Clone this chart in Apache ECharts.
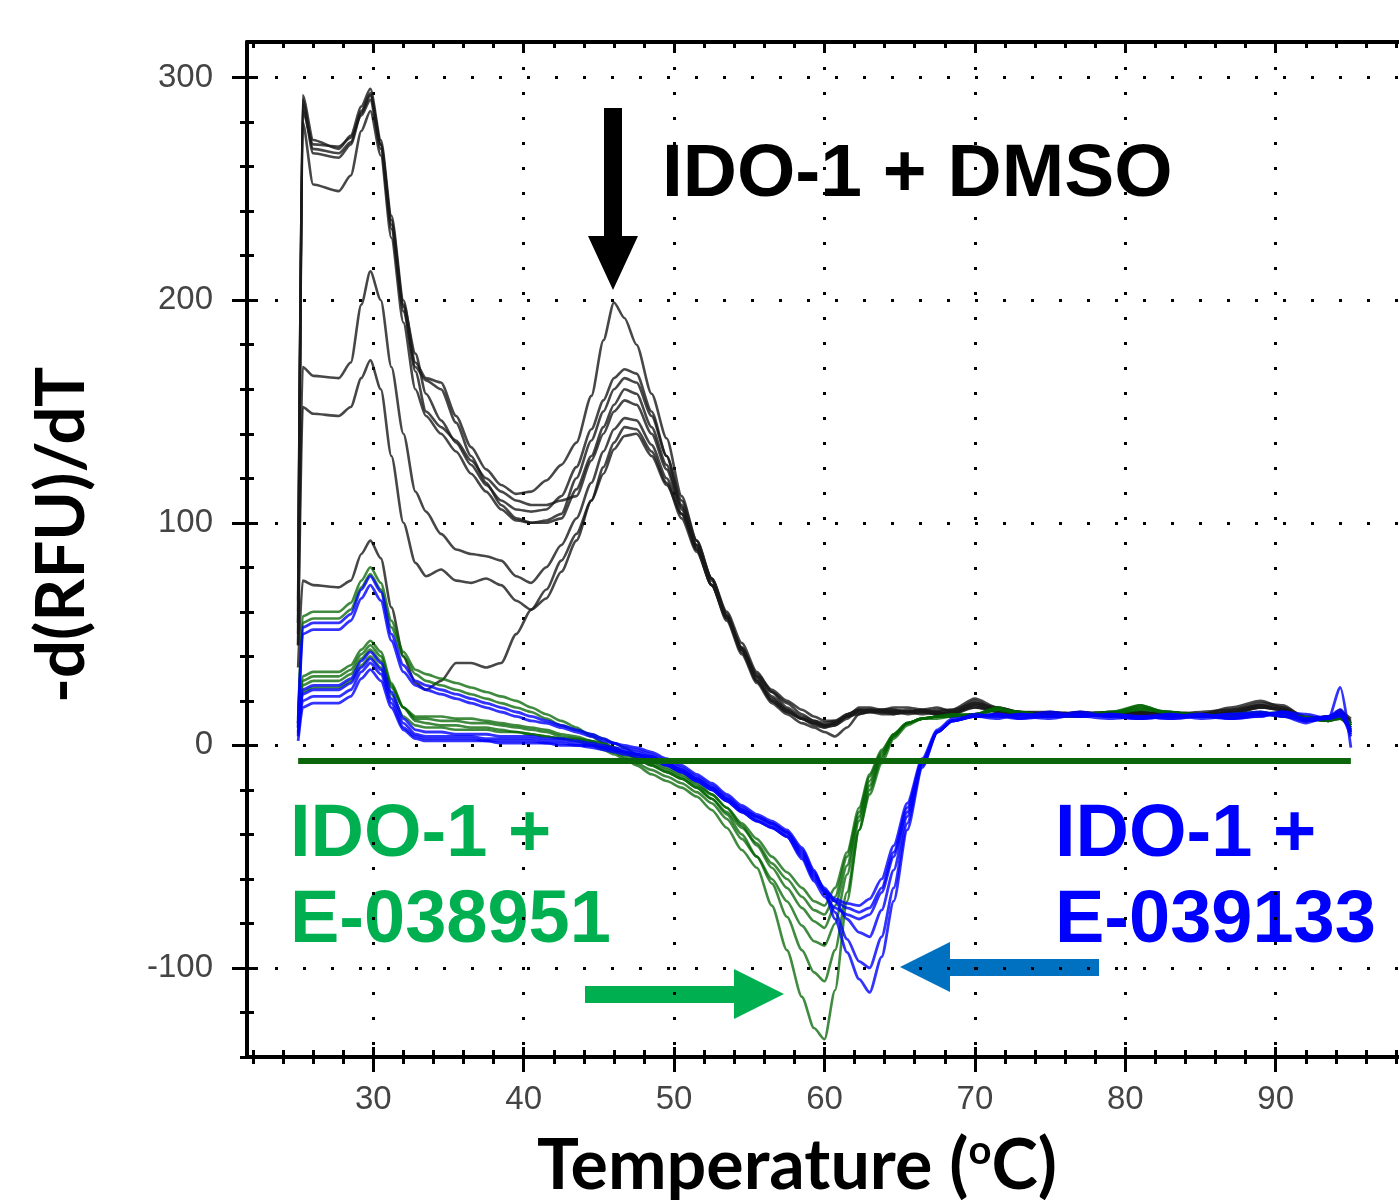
<!DOCTYPE html>
<html><head><meta charset="utf-8">
<script src="https://cdn.jsdelivr.net/npm/echarts@6/dist/echarts.min.js"></script>
<style>html,body{margin:0;padding:0;background:#fff}#c{width:1399px;height:1200px}</style>
</head><body><div id="c"></div>
<script>
// Temperature samples (°C)
const temps = [25,25.3,26,27.7,28.5,29.2,29.8,30.5,31.2,32,32.8,33.5,34.5,35.5,36.5,37.5,38.5,39.5,40.5,41.5,42.5,43.5,44.5,45.3,46,46.7,47.5,48.5,49.5,50.5,51.5,52.5,53.5,54.5,55.5,56.5,57.5,58.5,59.3,60,60.7,61.5,62.3,63,63.8,64.6,65.5,66.5,67.5,68.5,70,71.5,73,75,77,79,81,83,85,87,89,90.5,92,93.5,94.3,95];
const xMajor = [30,40,50,60,70,80,90];
const xMinor = [22,24,26,28,30,32,34,36,38,40,42,44,46,48,50,52,54,56,58,60,62,64,66,68,70,72,74,76,78,80,82,84,86,88,90,92,94,96,98];
const yMajor = [-100,0,100,200,300];
const yMinor = [-140,-120,-100,-80,-60,-40,-20,0,20,40,60,80,100,120,140,160,180,200,220,240,260,280,300];

// IDO-1 + DMSO (black)
const dmso1 = [60,292,272,268,274,287,295,272,238,200,172,165, 163,148,134,124,117,113,114,119,126,136, 157,182,199,192,180,158,138,112,92,75,59,43, 29,20,15,12,10,9,10,13,15,16,16, 17,17,16,15,16,19,17,15,14,15, 14,15,14,15,16,19,18,12,13,15,12];
const dmso2 = [55,288,266,264,270,284,292,270,236,198,176,158, 146,136,126,117,110,106,105,106,112,125, 142,155,165,169,167,150,130,108,89,72,56,41, 28,19,14,10,8,6,4,8,14,15,16, 16,15,16,17,15,20,16,14,15,14, 15,14,15,14,17,20,17,11,12,16,10];
const dmso3 = [50,285,270,269,273,283,290,268,232,195,170,164, 160,145,130,118,108,102,100,101,104,120, 137,150,160,165,163,148,130,110,92,75,58,44, 31,24,19,14,11,9,9,12,16,16,15, 15,16,15,14,15,18,16,15,14,14, 15,15,13,14,15,18,17,13,12,14,11];
const dmso4 = [45,280,252,249,256,276,285,265,228,190,160,148, 140,132,122,114,106,101,100,100,102,115, 130,143,153,160,158,143,126,107,90,74,58,43, 30,21,16,12,10,8,9,13,17,17,16, 16,15,15,16,16,21,17,15,15,14, 14,15,14,14,16,18,16,12,13,14,9];
const dmso5 = [65,290,268,266,271,285,293,270,234,197,168,150, 143,137,128,120,114,110,108,108,110,112, 128,140,150,155,153,140,124,106,88,72,57,42, 29,20,15,12,9,8,10,14,16,15,15, 15,15,14,15,14,19,16,14,13,15, 14,14,15,13,15,18,16,12,11,13,8];
const dmso6 = [55,170,166,165,172,198,213,200,170,140,114,105, 95,88,86,85,83,76,73,80,90,102, 118,132,142,147,146,135,120,104,88,72,57,43, 31,22,16,12,10,9,10,13,15,15,14, 14,15,16,14,15,17,15,14,14,13, 14,14,13,14,14,17,16,11,12,13,9];
const dmso7 = [45,152,149,148,152,165,173,160,130,100,82,76, 79,74,73,75,72,65,61,66,78,92, 110,125,136,143,142,132,118,102,87,72,58,44, 32,25,20,16,13,11,11,13,14,15,15, 15,14,15,14,14,17,16,14,13,14, 15,14,14,13,15,17,16,11,12,13,10];
const dmso8 = [35,74,72,71,74,86,92,84,62,40,28,25, 29,37,37,35,37,50,61,70,83,95, 110,122,133,139,140,130,117,104,90,75,60,46, 33,24,17,13,11,10,11,14,16,16,15, 14,15,15,15,14,18,15,14,14,14, 13,15,14,13,14,17,16,12,11,12,7];

// IDO-1 + E-038951 (green)
const e951a = [12,58,60,60,64,74,80,73,56,42,34,32, 30,28,26,24,22,20,17,14,11,8, 4,1,-1,-3,-6,-9,-12,-15,-19,-24,-31,-40, -50,-62,-77,-92,-102,-106,-92,-66,-38,-20,-6, 4,10,12,13,13,14,17,14,13,14, 15,18,14,13,14,15,14,12,11,14,9];
const e951b = [10,55,57,57,61,71,77,70,53,40,32,29, 27,25,23,21,19,17,15,12,9,7, 5,3,1,-1,-4,-7,-10,-13,-17,-22,-28,-36, -45,-55,-64,-73,-79,-82,-72,-54,-32,-16,-4, 5,10,12,13,14,13,16,15,13,13, 14,17,15,14,13,14,15,13,12,13,10];
const e951c = [9,31,33,33,36,43,47,42,28,17,11,10, 9,9,8,8,7,6,5,4,3,2, 0,-2,-4,-6,-9,-13,-16,-19,-23,-29,-37,-47, -55,-72,-92,-113,-127,-132,-110,-70,-38,-22,-8, 3,9,12,13,14,14,16,14,13,14, 15,17,14,14,13,14,14,12,12,13,8];
const e951d = [8,29,31,31,34,41,45,40,27,17,12,12, 11,11,10,10,9,8,7,6,4,3, 1,-1,-3,-5,-8,-11,-14,-17,-21,-26,-33,-42, -50,-60,-70,-81,-88,-90,-80,-58,-34,-18,-5, 4,10,12,13,13,14,16,15,13,13, 14,16,15,13,14,15,13,12,11,13,9];
const e951e = [10,27,29,29,32,39,43,38,26,17,13,13, 13,12,12,11,10,9,8,7,5,4, 2,0,-2,-4,-6,-9,-12,-15,-19,-24,-30,-37, -44,-53,-60,-68,-74,-76,-68,-50,-30,-14,-3, 5,10,12,12,13,14,17,14,13,14, 14,18,14,13,13,14,14,12,11,12,8];
const e951f = [8,24,26,26,29,36,40,35,23,13,9,8, 8,7,7,7,6,6,5,4,3,3, 2,1,-1,-3,-5,-8,-11,-14,-18,-22,-28,-35, -42,-50,-57,-64,-70,-72,-64,-48,-28,-13,-2, 5,10,12,13,13,14,16,15,13,13, 14,16,15,13,14,14,13,12,12,12,9];

// IDO-1 + E-039133 (blue)
const e133a = [10,53,55,55,59,70,76,69,50,36,29,27, 25,23,21,19,17,15,13,11,9,7, 5,3,1,0,-1,-3,-6,-9,-13,-17,-22,-27, -31,-34,-38,-46,-56,-66,-78,-93,-105,-111,-95, -70,-38,-10,6,11,14,13,14,13,15, 13,12,13,14,12,13,15,14,12,26,-1];
const e133b = [8,50,52,52,56,66,72,65,47,33,27,25, 23,21,19,17,15,13,11,10,8,6, 4,2,1,-1,-2,-4,-7,-10,-14,-18,-23,-28, -32,-35,-39,-47,-57,-65,-75,-87,-97,-100,-86, -64,-35,-9,6,11,13,14,13,15,13, 14,13,12,13,14,15,13,10,13,16,6];
const e133c = [6,25,27,27,30,38,42,37,24,12,7,6, 6,5,5,5,4,4,4,3,3,2, 1,0,-1,-2,-3,-5,-8,-11,-15,-19,-24,-29, -33,-36,-40,-48,-58,-64,-70,-78,-84,-86,-74, -56,-32,-8,6,11,13,14,12,13,14, 13,12,14,13,12,14,15,11,12,15,5];
const e133d = [5,23,25,25,28,35,39,34,21,10,5,4, 4,4,4,3,3,3,3,2,2,1, 0,-1,-2,-3,-4,-6,-9,-12,-16,-20,-25,-30, -34,-37,-41,-50,-60,-66,-70,-73,-75,-73,-64, -48,-28,-7,6,11,13,12,14,13,13, 14,13,12,13,14,14,14,12,13,14,4];
const e133e = [4,20,22,22,25,33,37,32,19,8,4,3, 3,3,3,2,2,2,2,1,1,0, 0,-1,-2,-3,-4,-5,-8,-11,-15,-19,-24,-29, -32,-35,-39,-49,-59,-65,-69,-71,-72,-69,-60, -45,-26,-6,7,12,13,13,12,14,13, 12,13,14,12,13,14,13,11,12,13,6];
const e133f = [2,17,19,19,22,30,34,29,17,7,3,2, 2,2,2,2,1,1,1,1,0,0, -1,-2,-3,-4,-5,-6,-9,-12,-16,-20,-25,-30, -34,-37,-41,-51,-61,-68,-73,-76,-78,-76,-66, -50,-30,-8,6,11,13,14,13,12,14, 13,12,13,14,12,13,15,12,12,14,7];

// Threshold baseline
const baseX = [25,95];
const baseY = [-7,-7];

const blackSets = [dmso1,dmso2,dmso3,dmso4,dmso5,dmso6,dmso7,dmso8];
const greenSets = [e951a,e951b,e951c,e951d,e951e,e951f];
const blueSets  = [e133a,e133b,e133c,e133d,e133e,e133f];

function mk(vals, color, width, name){
  return {type:'line', name:name, data: temps.map((t,i)=>[t, vals[i]]), showSymbol:false, symbol:'none',
    smooth:0.25, smoothMonotone:'x', lineStyle:{color:color, width:width}, silent:true, animation:false};
}
const series = [];
blackSets.forEach(v=>series.push(mk(v,'rgba(25,25,25,0.8)',2.6,'IDO-1 + DMSO')));
greenSets.forEach(v=>series.push(mk(v,'rgba(0,100,0,0.75)',2.6,'IDO-1 + E-038951')));
blueSets.forEach(v=>series.push(mk(v,'rgba(0,0,255,0.8)',2.8,'IDO-1 + E-039133')));
series.push({type:'line', name:'baseline', data: baseX.map((x,i)=>[x, baseY[i]]), showSymbol:false, symbol:'none',
  lineStyle:{color:'#0b650b', width:6}, silent:true, animation:false, z:5});

const XMIN = 21.6, XMAX = 98.2, YMIN = -140, YMAX = 316;
const tickStyle = {color:'#000', width:3};
const labelFont = {fontSize:33, color:'#444', fontFamily:'Liberation Sans'};
function xa(extra){ return Object.assign({type:'value', min:XMIN, max:XMAX, position:'bottom',
  axisLine:{show:false,onZero:false}, axisLabel:{show:false}, splitLine:{show:false}}, extra); }
function ya(extra){ return Object.assign({type:'value', min:YMIN, max:YMAX, position:'left',
  axisLine:{show:false,onZero:false}, axisLabel:{show:false}, splitLine:{show:false}}, extra); }

const option = {
  animation:false,
  backgroundColor:'#fff',
  grid:{left:247, right:0, top:42, bottom:143, containLabel:false},
  xAxis:[
    xa({axisLine:{show:true,onZero:false,lineStyle:{color:'#000',width:4}},
        axisTick:{show:true, customValues:xMajor, length:15, lineStyle:tickStyle},
        axisLabel:Object.assign({show:true, customValues:xMajor, margin:26}, labelFont),
        splitLine:{show:true, lineStyle:{type:[3,22], width:3, color:'#000'}}}),
    xa({axisTick:{show:true, inside:true, customValues:xMajor, length:10, lineStyle:tickStyle}}),
    xa({axisTick:{show:true, customValues:xMinor, length:7, lineStyle:tickStyle}}),
    xa({axisTick:{show:true, inside:true, customValues:xMinor, length:7, lineStyle:tickStyle}}),
    xa({position:'top', axisLine:{show:true,onZero:false,lineStyle:{color:'#000',width:4}},
        axisTick:{show:true, inside:true, customValues:xMinor, length:6, lineStyle:tickStyle}}),
    xa({position:'top', axisTick:{show:true, inside:true, customValues:xMajor, length:11, lineStyle:tickStyle}})
  ],
  yAxis:[
    ya({axisLine:{show:true,onZero:false,lineStyle:{color:'#000',width:4}},
        axisTick:{show:true, customValues:yMajor, length:15, lineStyle:tickStyle},
        axisLabel:Object.assign({show:true, customValues:yMajor, margin:34}, labelFont),
        splitLine:{show:true, lineStyle:{type:[3,25], width:3, color:'#000'}}}),
    ya({axisTick:{show:true, inside:true, customValues:yMajor, length:11, lineStyle:tickStyle}}),
    ya({axisTick:{show:true, customValues:yMinor, length:7, lineStyle:tickStyle}}),
    ya({axisTick:{show:true, inside:true, customValues:yMinor, length:7, lineStyle:tickStyle}})
  ],
  series: series,
  graphic:[
    {type:'text', x:746, y:-23, style:{text:'Melt Peak', font:'80px "Liberation Sans"', fill:'#c4c4c4', align:'center', verticalAlign:'middle'}},
    {type:'text', x:62, y:535, rotation:Math.PI/2, style:{text:'-d(RFU)/dT', font:'bold 67px Lato', fill:'#000', align:'center', verticalAlign:'middle'}},
    {type:'text', x:797, y:1166, style:{text:'{a|Temperature (}{s|o}{a|C)}', fill:'#000', align:'center', verticalAlign:'middle',
      rich:{a:{font:'bold 70px Lato', fill:'#000', verticalAlign:'bottom'}, s:{font:'bold 40px Lato', fill:'#000', verticalAlign:'top'}}}},
    {type:'text', x:662, y:175, style:{text:'IDO-1 + DMSO', font:'bold 75px "Liberation Sans"', fill:'#000', align:'left', verticalAlign:'middle'}},
    {type:'text', x:290, y:836, style:{text:'IDO-1 +', font:'bold 74px "Liberation Sans"', fill:'#00b050', align:'left', verticalAlign:'middle'}},
    {type:'text', x:290, y:922, style:{text:'E-038951', font:'bold 74px "Liberation Sans"', fill:'#00b050', align:'left', verticalAlign:'middle'}},
    {type:'text', x:1055, y:836, style:{text:'IDO-1 +', font:'bold 74px "Liberation Sans"', fill:'#0000ff', align:'left', verticalAlign:'middle'}},
    {type:'text', x:1055, y:922, style:{text:'E-039133', font:'bold 74px "Liberation Sans"', fill:'#0000ff', align:'left', verticalAlign:'middle'}},
    {type:'polygon', shape:{points:[[604,108],[622,108],[622,236],[638,236],[613,290],[588,236],[604,236]]}, style:{fill:'#000'}},
    {type:'polygon', shape:{points:[[585,986],[734,986],[734,969],[784,994],[734,1019],[734,1003],[585,1003]]}, style:{fill:'#00b050'}},
    {type:'polygon', shape:{points:[[1099,959],[950,959],[950,942],[900,967],[950,992],[950,976],[1099,976]]}, style:{fill:'#0070c0'}}
  ]
};
const chart = echarts.init(document.getElementById('c'), null, {renderer:'canvas'});
chart.setOption(option);
</script></body></html>
